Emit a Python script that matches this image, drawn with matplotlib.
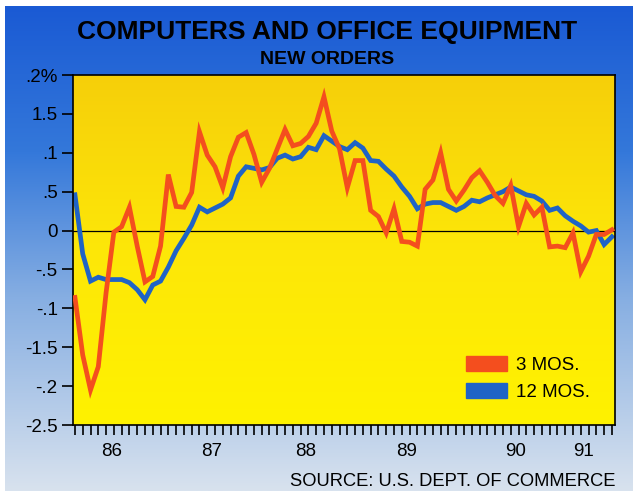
import matplotlib
matplotlib.use("Agg")
import matplotlib.pyplot as plt
import numpy as np
from matplotlib.colors import LinearSegmentedColormap
from matplotlib.patches import Patch

# monthly percent change in new orders, mid-1985 through mid-1991
three_mos = [-0.86, -1.60, -2.05, -1.75, -0.80, -0.02, 0.05, 0.30, -0.20, -0.66,
             -0.59, -0.20, 0.72, 0.31, 0.30, 0.49, 1.27, 0.97, 0.82, 0.55,
             0.95, 1.20, 1.26, 0.98, 0.62, 0.80, 1.05, 1.30, 1.09, 1.12,
             1.21, 1.38, 1.72, 1.28, 1.05, 0.55, 0.90, 0.90, 0.26, 0.18,
             -0.03, 0.28, -0.14, -0.15, -0.20, 0.53, 0.65, 1.00, 0.53, 0.38,
             0.52, 0.68, 0.77, 0.62, 0.45, 0.35, 0.58, 0.05, 0.35, 0.20,
             0.30, -0.21, -0.20, -0.22, -0.03, -0.53, -0.33, -0.05, -0.05, 0.01]
twelve_mos = [0.46, -0.30, -0.65, -0.60, -0.63, -0.63, -0.63, -0.67, -0.76, -0.89,
              -0.70, -0.65, -0.47, -0.26, -0.10, 0.07, 0.30, 0.24, 0.29, 0.34,
              0.42, 0.70, 0.82, 0.80, 0.78, 0.81, 0.93, 0.97, 0.92, 0.95,
              1.07, 1.04, 1.22, 1.15, 1.08, 1.04, 1.13, 1.06, 0.90, 0.89,
              0.79, 0.70, 0.56, 0.44, 0.28, 0.34, 0.36, 0.36, 0.31, 0.26,
              0.31, 0.39, 0.37, 0.42, 0.46, 0.50, 0.56, 0.51, 0.46, 0.44,
              0.38, 0.26, 0.29, 0.19, 0.12, 0.06, -0.02, 0.00, -0.18, -0.08]
months = np.arange(len(three_mos))

year_labels = ["86", "87", "88", "89", "90", "91"]
year_pos = [4.7, 17.6, 29.6, 42.6, 56.6, 65.3]

y_ticks = [2, 1.5, 1, 0.5, 0, -0.5, -1, -1.5, -2, -2.5]
y_labels = [".2%", "1.5", ".1", ".5", "0", "-.5", "-.1", "-1.5", "-.2", "-2.5"]

ORANGE = "#F44E1E"
BLUE = "#1F63C6"

plt.rcParams["font.family"] = ["Liberation Sans", "DejaVu Sans"]

W, H = 638, 491
fig = plt.figure(figsize=(W / 100, H / 100), dpi=100)
fig.patch.set_facecolor("white")

# blue backdrop fading to pale at the bottom
bg = fig.add_axes([5 / W, 0, 628 / W, 485 / H], zorder=-2)
bg_cmap = LinearSegmentedColormap.from_list(
    "bg", [(0.0, "#1a5ad4"), (0.3, "#3478da"), (0.6, "#86aee2"), (1.0, "#d8e2ee")])
bg.imshow(np.linspace(0, 1, 256).reshape(-1, 1), cmap=bg_cmap, aspect="auto",
          extent=[0, 1, 0, 1])
bg.axis("off")

ax = fig.add_axes([73 / W, 66 / H, 542 / W, 350 / H])

# yellow plot area, slightly golden at the top
ylw_cmap = LinearSegmentedColormap.from_list("ylw", ["#f6cf0a", "#fde708", "#fff200"])
ax.imshow(np.linspace(0, 1, 256).reshape(-1, 1), cmap=ylw_cmap, aspect="auto",
          extent=[0, 1, 0, 1], transform=ax.transAxes, zorder=0)

ax.axhline(0, color="black", lw=0.9, zorder=1)
ax.plot(months, twelve_mos, color=BLUE, lw=3.4, solid_joinstyle="miter", zorder=2)
ax.plot(months, three_mos, color=ORANGE, lw=3.4, solid_joinstyle="miter", zorder=3)

ax.set_xlim(-0.25, 69.4)
ax.set_ylim(-2.5, 2)

ax.set_yticks(y_ticks)
ax.set_yticklabels(y_labels, fontsize=13.5)
ax.set_xticks(months)
ax.set_xticklabels([])
ax.tick_params(axis="y", direction="out", length=8, width=1.2, pad=3, colors="black")
ax.tick_params(axis="x", direction="out", length=7, width=1.2, colors="black")
for s in ax.spines.values():
    s.set_color("black")
    s.set_linewidth(1.2)

for lab, pos in zip(year_labels, year_pos):
    ax.text(pos, -0.077, lab, transform=ax.get_xaxis_transform(),
            ha="center", va="center", fontsize=13.5)

handles = [Patch(color=ORANGE), Patch(color=BLUE)]
ax.legend(handles, ["3 MOS.", "12 MOS."], loc="upper left",
          bbox_to_anchor=(466 / W, (H - 356) / H), bbox_transform=fig.transFigure,
          frameon=False, fontsize=13.5, handlelength=2.2, handleheight=0.85,
          handletextpad=0.45, labelspacing=0.5, borderpad=0, borderaxespad=0)

fig.text(327 / W, 1 - 32 / H, "COMPUTERS AND OFFICE EQUIPMENT", ha="center", va="center",
         fontsize=19, fontweight="bold")
fig.text(327 / W, 1 - 59 / H, "NEW ORDERS", ha="center", va="center",
         fontsize=14, fontweight="bold")
fig.text(615 / W, 1 - 481 / H, "SOURCE: U.S. DEPT. OF COMMERCE", ha="right", va="center",
         fontsize=13.2)

fig.savefig("out.png", dpi=100)
